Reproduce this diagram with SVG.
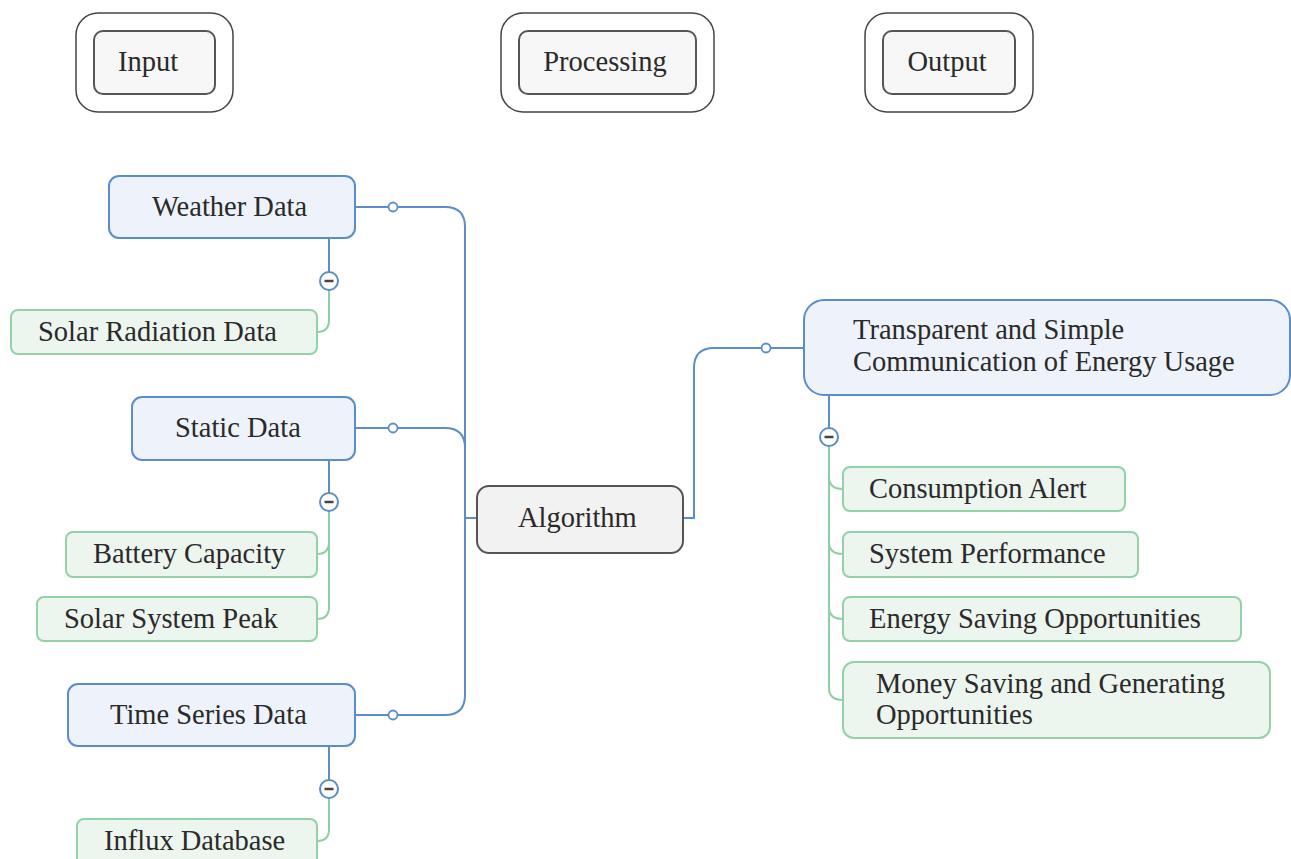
<svg xmlns="http://www.w3.org/2000/svg" width="1291" height="859" viewBox="0 0 1291 859">
<style>
text{font-family:"Liberation Serif","Times New Roman",serif;font-size:28.5px;fill:#2a2a2a}
.outer{fill:#fff;stroke:#444;stroke-width:1.5}
.inner{fill:#f7f7f7;stroke:#555;stroke-width:2}
.main{fill:#eef3fb;stroke:#5b8ccb;stroke-width:2}
.sub{fill:#edf5ef;stroke:#93d2a8;stroke-width:2}
.alg{fill:#f2f2f2;stroke:#555;stroke-width:2}
.blue{fill:none;stroke:#5b8ccb;stroke-width:2}
.green{fill:none;stroke:#8ccfa2;stroke-width:2}
.dot{fill:#fff;stroke:#5b8ccb;stroke-width:1.8}
.btn{fill:#fff;stroke:#5b8ccb;stroke-width:2}
.minus{stroke:#444;stroke-width:2.5}
</style>
<rect width="1291" height="859" fill="#fff"/>
<g id="connectors">
<path class="blue" d="M477 518 H465 V227 Q465 207 445 207 H355"/>
<path class="blue" d="M465 448 Q465 428 445 428 H355"/>
<path class="blue" d="M465 500 V695 Q465 715 445 715 H355"/>
<path class="blue" d="M683 518 H694 V368 Q694 348 714 348 H804"/>
<circle class="dot" cx="393" cy="207" r="4.5"/>
<circle class="dot" cx="393" cy="428" r="4.5"/>
<circle class="dot" cx="393" cy="715" r="4.5"/>
<circle class="dot" cx="766" cy="348" r="4.5"/>
<path class="blue" d="M329 238 V272"/>
<path class="green" d="M329 290 V320 Q329 332 317 332"/>
<path class="blue" d="M329 460 V493"/>
<path class="green" d="M329 511 V607 Q329 619 317 619 M329 542 Q329 554 317 554"/>
<path class="blue" d="M329 746 V780"/>
<path class="green" d="M329 798 V829 Q329 841 317 841"/>
<path class="blue" d="M829 395 V428"/>
<path class="green" d="M829 446 V688 Q829 700 843 700 M829 477 Q829 489 843 489 M829 542 Q829 554 843 554 M829 607 Q829 619 843 619"/>
<g><circle class="btn" cx="329" cy="281" r="9"/><path class="minus" d="M324.5 281 H333.5"/></g>
<g><circle class="btn" cx="329" cy="502" r="9"/><path class="minus" d="M324.5 502 H333.5"/></g>
<g><circle class="btn" cx="329" cy="789" r="9"/><path class="minus" d="M324.5 789 H333.5"/></g>
<g><circle class="btn" cx="829" cy="437" r="9"/><path class="minus" d="M824.5 437 H833.5"/></g>
</g>
<g id="input"><rect class="outer" x="76" y="13" width="157" height="99" rx="22"/><rect class="inner" x="94" y="31" width="121" height="63" rx="9"/><text x="148" y="71" text-anchor="middle">Input</text></g>
<g id="processing"><rect class="outer" x="501" y="13" width="213" height="99" rx="22"/><rect class="inner" x="519" y="31" width="177" height="63" rx="9"/><text x="605" y="71" text-anchor="middle">Processing</text></g>
<g id="output"><rect class="outer" x="865" y="13" width="168" height="99" rx="22"/><rect class="inner" x="883" y="31" width="132" height="63" rx="9"/><text x="947" y="71" text-anchor="middle">Output</text></g>
<g id="weather"><rect class="main" x="109" y="176" width="246" height="62" rx="10"/><text x="152" y="216">Weather Data</text></g>
<g id="solar-radiation"><rect class="sub" x="11" y="310" width="306" height="44" rx="7"/><text x="38" y="341">Solar Radiation Data</text></g>
<g id="static"><rect class="main" x="132" y="397" width="223" height="63" rx="10"/><text x="175" y="437">Static Data</text></g>
<g id="battery"><rect class="sub" x="66" y="532" width="251" height="45" rx="7"/><text x="93" y="563">Battery Capacity</text></g>
<g id="peak"><rect class="sub" x="37" y="597" width="280" height="44" rx="7"/><text x="64" y="628">Solar System Peak</text></g>
<g id="timeseries"><rect class="main" x="68" y="684" width="287" height="62" rx="10"/><text x="110" y="724">Time Series Data</text></g>
<g id="influx"><rect class="sub" x="77" y="819" width="240" height="46" rx="7"/><text x="104" y="850">Influx Database</text></g>
<g id="algorithm"><rect class="alg" x="477" y="486" width="206" height="67" rx="12"/><text x="518" y="527">Algorithm</text></g>
<g id="communication"><rect class="main" x="804" y="300" width="486" height="95" rx="20"/><text x="853" y="339">Transparent and Simple</text><text x="853" y="371">Communication of Energy Usage</text></g>
<g id="alert"><rect class="sub" x="843" y="467" width="282" height="44" rx="7"/><text x="869" y="498">Consumption Alert</text></g>
<g id="performance"><rect class="sub" x="843" y="532" width="295" height="45" rx="7"/><text x="869" y="563">System Performance</text></g>
<g id="energy"><rect class="sub" x="843" y="597" width="398" height="44" rx="7"/><text x="869" y="628">Energy Saving Opportunities</text></g>
<g id="money"><rect class="sub" x="843" y="662" width="427" height="76" rx="11"/><text x="876" y="693">Money Saving and Generating</text><text x="876" y="724">Opportunities</text></g>
</svg>
